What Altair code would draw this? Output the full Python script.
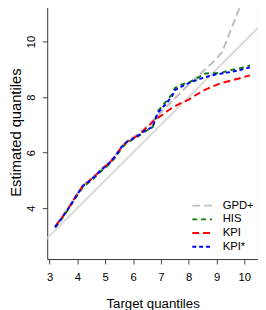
import altair as alt
import pandas as pd

# Target quantiles (x) shared by all estimators
x_target = [3.2, 3.5, 3.7, 4.0, 4.2, 4.4, 4.6, 4.8, 5.0, 5.2, 5.4, 5.6, 5.8, 6.0, 6.2, 6.4,
            6.6, 6.7, 6.8, 6.9, 7.0, 7.2, 7.4, 7.5, 7.7, 8.0, 8.3, 8.6, 9.0, 9.2, 9.5, 9.8, 10.2]

gpd_plus = [3.34, 3.76, 4.06, 4.53, 4.83, 4.99, 5.15, 5.36, 5.53, 5.71, 5.96, 6.24, 6.42, 6.55, 6.68, 6.85,
            7.05, 7.15, 7.26, 7.35, 7.45, 7.65, 7.85, 7.95, 8.15, 8.45, 8.73, 9.00, 9.38, 9.62, 10.38, 11.15, 12.17]
his = [3.30, 3.70, 4.00, 4.47, 4.76, 4.92, 5.08, 5.28, 5.46, 5.63, 5.88, 6.18, 6.37, 6.48, 6.60, 6.74,
       6.86, 6.91, 7.18, 7.50, 7.62, 7.85, 8.10, 8.32, 8.44, 8.52, 8.68, 8.85, 8.86, 8.88, 8.97, 9.02, 9.14]
kpi = [3.33, 3.74, 4.03, 4.51, 4.81, 4.96, 5.13, 5.33, 5.51, 5.68, 5.93, 6.22, 6.41, 6.51, 6.63, 6.82,
       7.00, 7.10, 7.20, 7.26, 7.32, 7.47, 7.61, 7.66, 7.77, 7.91, 8.10, 8.27, 8.44, 8.51, 8.59, 8.67, 8.78]
kpi_star = [3.32, 3.73, 4.02, 4.50, 4.80, 4.95, 5.12, 5.32, 5.50, 5.67, 5.92, 6.22, 6.40, 6.50, 6.62, 6.77,
            6.87, 6.92, 7.20, 7.45, 7.55, 7.78, 8.02, 8.25, 8.36, 8.50, 8.62, 8.72, 8.82, 8.85, 8.90, 8.96, 9.07]

series_names = ["GPD+", "HIS", "KPI", "KPI*"]
series_values = [gpd_plus, his, kpi, kpi_star]
series_colors = ["#BEBEBE", "#0A7A0A", "#FF0000", "#0000FF"]
series_dashes = [[8, 4], [5, 4], [7, 4], [4, 3]]

identity_x = [2.0, 12.0]

x_ticks = [3, 4, 5, 6, 7, 8, 9, 10]
y_ticks = [4, 6, 8, 10]

rows = []
for name, vals in zip(series_names, series_values):
    for i, (xv, yv) in enumerate(zip(x_target, vals)):
        rows.append({"series": name, "x": xv, "y": yv, "order": i})
df = pd.DataFrame(rows)
id_df = pd.DataFrame({"x": identity_x, "y": identity_x})

xscale = alt.Scale(domain=[2.915, 10.49], nice=False, zero=False)
yscale = alt.Scale(domain=[2.165, 11.31], nice=False, zero=False)

xaxis = alt.Axis(values=x_ticks, title="Target quantiles", grid=False, domain=False,
                 tickSize=5, tickColor="#444", labelFontSize=11.5, labelPadding=8,
                 labelColor="#000", titleFontSize=13.5, titleFontWeight="normal",
                 titleColor="#000", titlePadding=14, labelFont="Liberation Sans",
                 titleFont="Liberation Sans")
yaxis = alt.Axis(values=y_ticks, title="Estimated quantiles", grid=False, domain=False,
                 tickSize=5, tickColor="#444", labelFontSize=11.5, labelPadding=6,
                 labelAngle=-90, labelAlign="center", labelBaseline="bottom",
                 labelColor="#000", titleFontSize=15, titleFontWeight="normal",
                 titleColor="#000", titlePadding=2, labelFont="Liberation Sans",
                 titleFont="Liberation Sans")

legend_opts = dict(title=None, orient="none", legendX=150, legendY=196.5,
                   symbolType="M-1.43,0H1.43", symbolSize=196, symbolStrokeWidth=2,
                   labelFontSize=11.5, labelFont="Liberation Sans", labelColor="#000",
                   labelOffset=13, rowPadding=0, padding=0)

identity = alt.Chart(id_df).mark_line(color="#D9D9D9", strokeWidth=2, clip=True).encode(
    x=alt.X("x:Q", scale=xscale, axis=xaxis),
    y=alt.Y("y:Q", scale=yscale, axis=yaxis),
)

lines = alt.Chart(df).mark_line(strokeWidth=2, clip=True).encode(
    x=alt.X("x:Q", scale=xscale, axis=xaxis),
    y=alt.Y("y:Q", scale=yscale, axis=yaxis),
    order="order:Q",
    color=alt.Color("series:N",
                    scale=alt.Scale(domain=series_names, range=series_colors),
                    legend=alt.Legend(**legend_opts)),
    strokeDash=alt.StrokeDash("series:N",
                              scale=alt.Scale(domain=series_names, range=series_dashes),
                              legend=alt.Legend(**legend_opts)),
)

chart = alt.layer(identity, lines).properties(
    width=215, height=259,
    autosize=alt.AutoSizeParams(type="none"),
    padding={"left": 40, "top": -6, "right": 0, "bottom": 56},
    background="white",
).configure_view(stroke="#333", strokeWidth=1)

chart.save("out.html", embed_options={"renderer": "svg", "actions": False})
